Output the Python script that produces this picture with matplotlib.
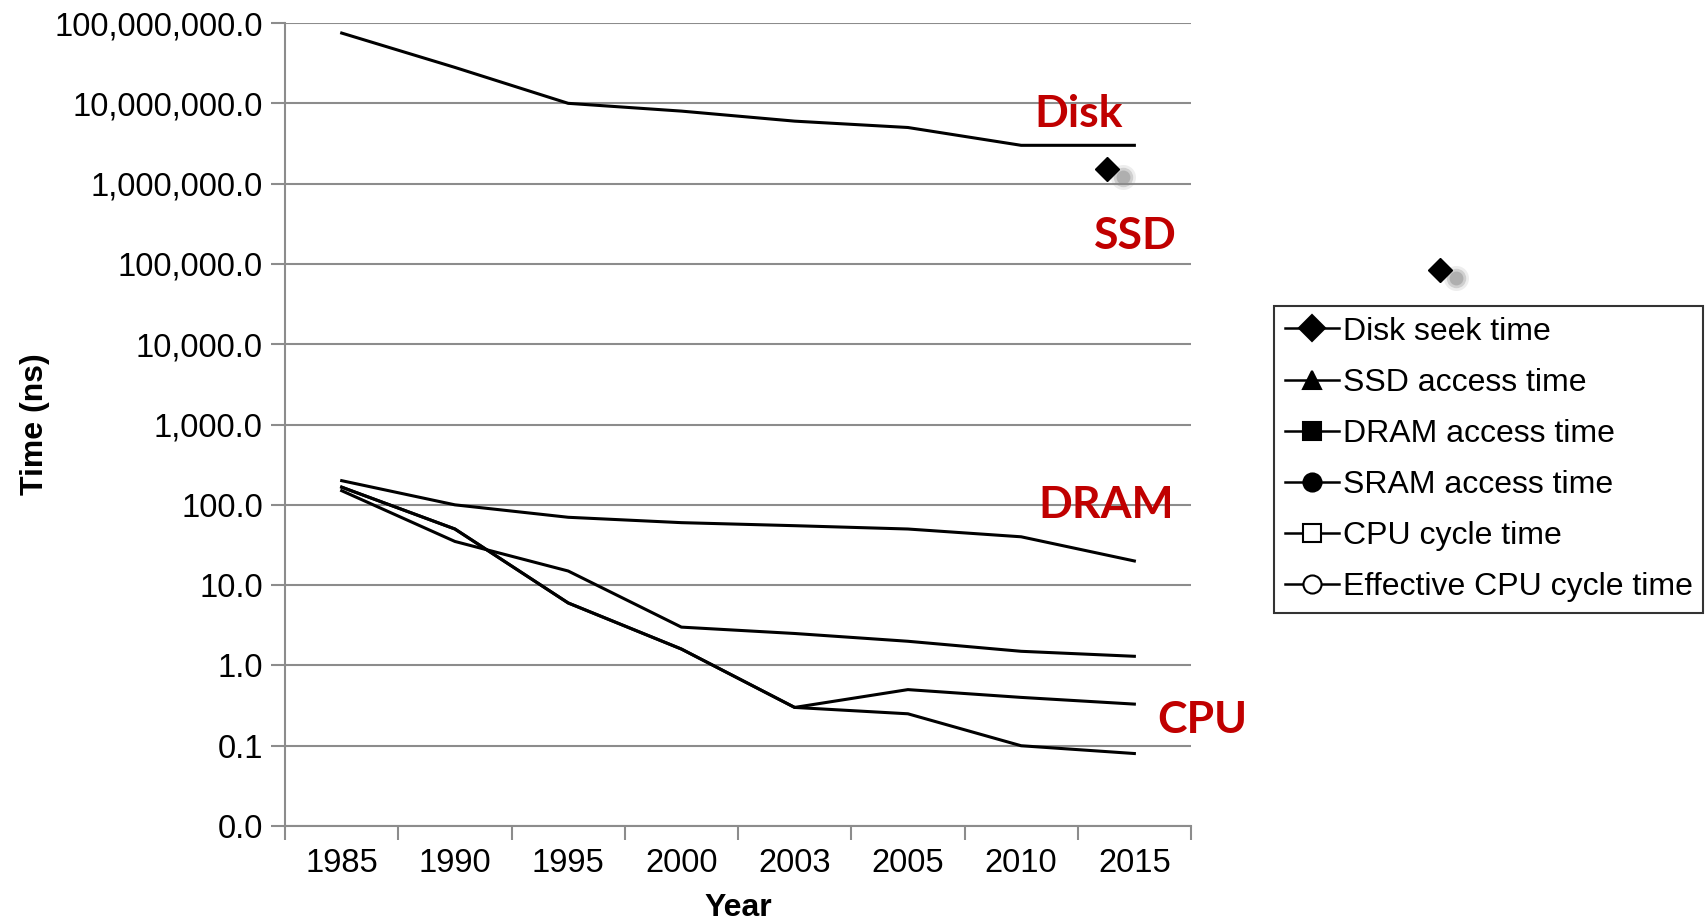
import numpy as np
import matplotlib.pyplot as plt
import matplotlib.transforms as mtrans
from matplotlib.lines import Line2D
from matplotlib.ticker import FixedLocator, FuncFormatter

years = ['1985', '1990', '1995', '2000', '2003', '2005', '2010', '2015']
disk = [75e6, 28e6, 10e6, 8e6, 6e6, 5e6, 3e6, 3e6]
dram = [200, 100, 70, 60, 55, 50, 40, 20]
sram = [150, 35, 15, 3, 2.5, 2, 1.5, 1.3]
cpu = [166, 50, 6, 1.6, 0.30, 0.50, 0.40, 0.33]
eff_cpu = [166, 50, 6, 1.6, 0.30, 0.25, 0.10, 0.08]

legend_names = ['Disk seek time', 'SSD access time', 'DRAM access time',
                'SRAM access time', 'CPU cycle time', 'Effective CPU cycle time']

# stray diamond markers (category index, value)
stray_x = [6.76, 9.7]
stray_y = [1.5e6, 8.3e4]

plt.rcParams['font.family'] = ['Liberation Sans', 'DejaVu Sans']

fig = plt.figure(figsize=(17.08, 9.21), dpi=100)
ax = fig.add_axes([0.1669, 0.1031, 0.5304, 0.8719])

x = np.arange(len(years))
for s in [disk, dram, sram, cpu, eff_cpu]:
    ax.plot(x, s, color='black', lw=2.2, zorder=3)

ax.set_yscale('log')
ax.set_ylim(0.01, 1e8)
ax.set_xlim(-0.5, len(years) - 0.5)

grid_c = '#8c8c8c'
ax.yaxis.set_major_locator(FixedLocator([10.0 ** k for k in range(-2, 9)]))
ax.yaxis.set_minor_locator(FixedLocator([]))
ax.yaxis.set_major_formatter(FuncFormatter(lambda v, p: '{:,.1f}'.format(v)))
ax.grid(axis='y', color=grid_c, lw=1.5, zorder=0)
ax.tick_params(axis='y', length=10, width=1.5, color=grid_c, labelsize=23.5, pad=6)

ax.set_xticks(x)
ax.set_xticklabels(years)
ax.set_xticks(np.arange(len(years) + 1) - 0.5, minor=True)
ax.tick_params(axis='x', which='major', length=0, labelsize=23.5, pad=16)
ax.tick_params(axis='x', which='minor', length=10, width=1.5, color=grid_c)

for side in ['top', 'right']:
    ax.spines[side].set_visible(False)
for side in ['left', 'bottom']:
    ax.spines[side].set_color(grid_c)
    ax.spines[side].set_linewidth(1.5)

ax.set_xlabel('Year', fontsize=23, fontweight='bold', labelpad=10)
ax.set_ylabel('Time (ns)', fontsize=23, fontweight='bold', labelpad=3)

red = '#c00000'
lab_kw = dict(color=red, fontsize=32, fontweight='bold', family='Lato',
              ha='center', va='center')
ax.text(6.51, 7.4e6, 'Disk', **lab_kw)
ax.text(7.01, 2.2e5, 'SSD', **lab_kw)
ax.text(6.75, 100, 'DRAM', **lab_kw)
ax.text(7.6, 0.21, 'CPU', **lab_kw)

# diamonds with a soft grey shadow
for xs, ys in zip(stray_x, stray_y):
    for ms, a in [(18, 0.15), (14, 0.3), (10, 0.45)]:
        sh = mtrans.offset_copy(ax.transData, fig=fig, x=16, y=-8, units='dots')
        ax.plot([xs], [ys], 'o', ms=ms, color='#8a8a8a', alpha=a, mec='none',
                transform=sh, clip_on=False, zorder=4)
    ax.plot([xs], [ys], 'D', ms=12, color='black', clip_on=False, zorder=5)

markers = [('D', 'black'), ('^', 'black'), ('s', 'black'),
           ('o', 'black'), ('s', 'white'), ('o', 'white')]
handles = [Line2D([], [], color='black', lw=1.8, marker=m, ms=13, mfc=fc,
                  mec='black', mew=1.5) for m, fc in markers]
leg = fig.legend(handles, legend_names, loc='upper left',
                 bbox_to_anchor=(0.746, 0.668), bbox_transform=fig.transFigure,
                 fontsize=23, frameon=True, fancybox=False, edgecolor='black',
                 handlelength=1.7, handletextpad=0.1, labelspacing=0.66,
                 borderpad=0.34, borderaxespad=0)
leg.get_frame().set_linewidth(1.5)

fig.savefig('out.png', dpi=100)
